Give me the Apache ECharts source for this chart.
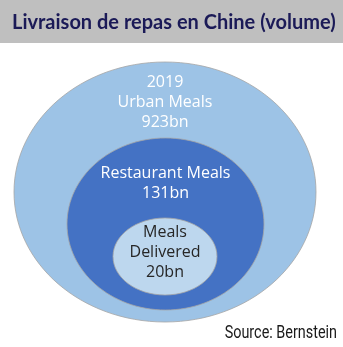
<!DOCTYPE html>
<html>
<head>
<meta charset="utf-8">
<script src="https://cdn.jsdelivr.net/npm/echarts@6/dist/echarts.min.js"></script>
<style>
  html, body { margin: 0; padding: 0; background: #ffffff; }
  #chart { width: 343px; height: 347px; }
</style>
</head>
<body>
<div id="chart"></div>
<script>
// Nested meal volumes (billions), outermost to innermost
const segments = ['Urban Meals', 'Restaurant Meals', 'Meals\nDelivered'];
const volumes = [923, 131, 20];
const prefixes = ['2019', '', ''];
const unit = 'bn';

// Ellipse layout in pixels, outermost first
const shapes = [
  { cx: 165, cy: 192, rx: 151, ry: 130, fill: '#9DC3E6', text: '#ffffff', textY: 102 },
  { cx: 165.5, cy: 224, rx: 98.5, ry: 86, fill: '#4472C4', text: '#ffffff', textY: 183 },
  { cx: 165, cy: 256.5, rx: 52, ry: 38.5, fill: '#BDD7EE', text: '#262626', textY: 252 }
];

const chart = echarts.init(document.getElementById('chart'), null, { renderer: 'canvas' });

const seriesData = volumes.map((v, i) => ({ value: [i, v], name: segments[i] }));

function labelFor(i) {
  const parts = [];
  if (prefixes[i]) parts.push(prefixes[i]);
  parts.push(segments[i]);
  parts.push(volumes[i] + unit);
  return parts.join('\n');
}

chart.setOption({
  animation: false,
  title: {
    text: 'Livraison de repas en Chine (volume)',
    left: 7,
    top: 8,
    textStyle: {
      fontFamily: 'Lato, sans-serif',
      fontWeight: 'bold',
      fontSize: 20,
      color: '#1b1a57'
    }
  },
  graphic: [
    { type: 'rect', z: -10, shape: { x: 0, y: 0, width: 343, height: 43 }, style: { fill: '#bfbfbf' } },
    {
      type: 'text', x: 337, y: 333, scaleX: 0.8,
      style: {
        text: 'Source: Bernstein',
        font: '18px Roboto, sans-serif',
        fill: '#1a1a1a',
        align: 'right',
        verticalAlign: 'middle'
      }
    }
  ],
  series: [{
    type: 'custom',
    coordinateSystem: 'none',
    data: seriesData,
    renderItem: function (params, api) {
      const i = api.value(0);
      const s = shapes[i];
      return {
        type: 'group',
        children: [
          {
            type: 'ellipse',
            z2: i * 2,
            shape: { cx: s.cx, cy: s.cy, rx: s.rx, ry: s.ry },
            style: { fill: s.fill, stroke: '#a6a6a6', lineWidth: 0.8 }
          },
          {
            type: 'text',
            z2: i * 2 + 1,
            style: {
              text: labelFor(i),
              x: s.cx,
              y: s.textY,
              align: 'center',
              verticalAlign: 'middle',
              lineHeight: 20,
              font: '16px "Open Sans", sans-serif',
              fill: s.text
            }
          }
        ]
      };
    }
  }]
});
</script>
</body>
</html>
